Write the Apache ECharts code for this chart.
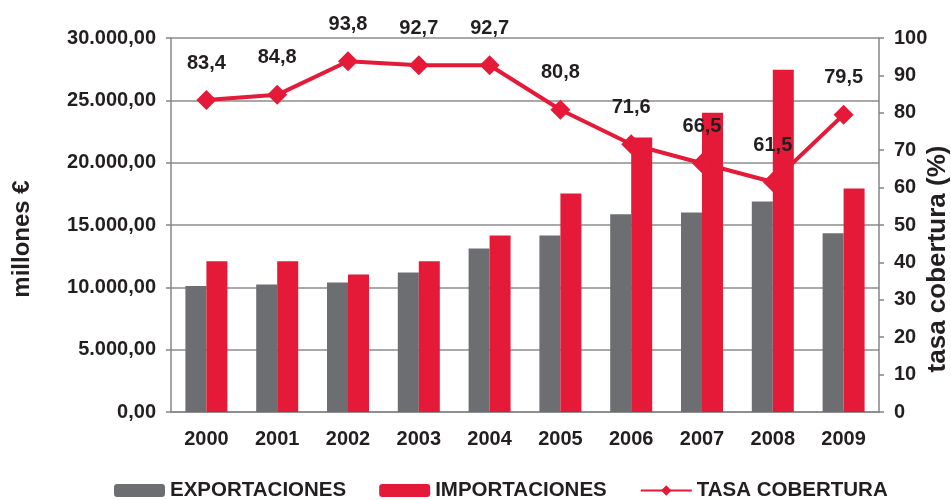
<!DOCTYPE html>
<html>
<head>
<meta charset="utf-8">
<script src="https://cdn.jsdelivr.net/npm/echarts@6/dist/echarts.min.js"></script>
<style>
  html, body { margin: 0; padding: 0; background: #fff; }
  #chart { width: 951px; height: 500px; }
</style>
</head>
<body>
<div id="chart"></div>
<script>
// datos
const years = ["2000", "2001", "2002", "2003", "2004", "2005", "2006", "2007", "2008", "2009"];
const exportaciones = [10100, 10230, 10390, 11190, 13120, 14160, 15870, 16000, 16880, 14340];
const importaciones = [12100, 12100, 11030, 12100, 14160, 17530, 22010, 24010, 27460, 17920];
const tasaCobertura = [83.4, 84.8, 93.8, 92.7, 92.7, 80.8, 71.6, 66.5, 61.5, 79.5];

const GRAY = "#6d6e71";
const RED = "#e41a38";
const TEXT = "#231f20";
const AXIS = "#858585";
const FONT = "'Liberation Sans', Arial, sans-serif";

function euros(v) {
  let s = String(Math.round(v)).replace(/\B(?=(\d{3})+(?!\d))/g, ".");
  return s + ",00";
}

let myChart = echarts.init(document.getElementById("chart"));
myChart.setOption({
  animation: false,
  textStyle: { fontFamily: FONT },
  grid: { left: 171, right: 72, top: 38, bottom: 88, outerBoundsMode: "none" },
  legend: {
    left: 109,
    top: 475,
    itemWidth: 51,
    itemHeight: 13,
    itemGap: 33,
    textStyle: { color: TEXT, fontSize: 20.5, fontWeight: "bold", fontFamily: FONT },
    data: ["EXPORTACIONES", "IMPORTACIONES", "TASA COBERTURA"]
  },
  xAxis: {
    type: "category",
    data: years,
    axisLine: { lineStyle: { color: AXIS, width: 1.5 } },
    axisTick: { alignWithLabel: false, length: 6, lineStyle: { color: AXIS, width: 1.5 } },
    axisLabel: { color: TEXT, fontSize: 20, fontWeight: "bold", margin: 17 }
  },
  yAxis: [
    {
      type: "value",
      min: 0,
      max: 30000,
      interval: 5000,
      name: "millones €",
      nameLocation: "middle",
      nameRotate: 90,
      nameGap: 137,
      nameMoveOverlap: false,
      nameTextStyle: { color: TEXT, fontSize: 24, fontWeight: "bold", padding: [0, 28, 0, 0] },
      axisLine: { show: true, lineStyle: { color: AXIS, width: 1.5 } },
      axisTick: { show: true, length: 5, lineStyle: { color: AXIS, width: 1.5 } },
      axisLabel: { color: TEXT, fontSize: 20, fontWeight: "bold", margin: 15, formatter: euros },
      splitLine: { show: true, lineStyle: { color: "#8c8c8c", width: 1.5 } }
    },
    {
      type: "value",
      min: 0,
      max: 100,
      interval: 10,
      position: "right",
      name: "tasa cobertura (%)",
      nameLocation: "middle",
      nameRotate: 90,
      nameGap: 46,
      nameMoveOverlap: false,
      nameTextStyle: { color: TEXT, fontSize: 26, fontWeight: "bold", padding: [0, 68, 0, 0] },
      axisLine: { show: true, lineStyle: { color: AXIS, width: 1.5 } },
      axisTick: { show: true, length: 5, lineStyle: { color: AXIS, width: 1.5 } },
      axisLabel: { color: TEXT, fontSize: 20, fontWeight: "bold", margin: 15 },
      splitLine: { show: false }
    }
  ],
  series: [
    {
      name: "EXPORTACIONES",
      type: "bar",
      data: exportaciones,
      barWidth: 21,
      barGap: "0%",
      itemStyle: { color: GRAY }
    },
    {
      name: "IMPORTACIONES",
      type: "bar",
      data: importaciones,
      barWidth: 21,
      barGap: "0%",
      itemStyle: { color: RED }
    },
    {
      name: "TASA COBERTURA",
      type: "line",
      yAxisIndex: 1,
      data: tasaCobertura,
      symbol: "diamond",
      symbolSize: 20,
      z: 5,
      lineStyle: { color: RED, width: 4 },
      itemStyle: { color: RED },
      label: {
        show: true,
        position: "top",
        distance: 17,
        color: TEXT,
        fontSize: 20,
        fontWeight: "bold",
        formatter: p => String(p.value).replace(".", ",")
      }
    }
  ]
});
</script>
</body>
</html>
